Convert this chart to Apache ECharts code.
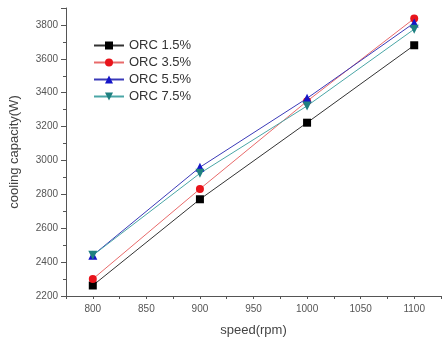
<!DOCTYPE html>
<html><head><meta charset="utf-8">
<script src="https://cdn.jsdelivr.net/npm/echarts@6/dist/echarts.min.js"></script>
<style>html,body{margin:0;padding:0;background:#fff}#c{width:444px;height:342px}</style>
</head><body><div id="c"></div>
<script>
const speeds = [800, 900, 1000, 1100];
const orc15 = [2262, 2771, 3223, 3680];
const orc35 = [2300, 2832, 3350, 3838];
const orc55 = [2440, 2960, 3367, 3812];
const orc75 = [2440, 2924, 3322, 3775];
const seriesNames = ['ORC 1.5%', 'ORC 3.5%', 'ORC 5.5%', 'ORC 7.5%'];

const chart = echarts.init(document.getElementById('c'));
const font = 'Liberation Sans, Arial, sans-serif';
function mk(name, vals, color, lineColor, symbol, size) {
  return {
    name: name, type: 'line',
    data: speeds.map((s, i) => [s, vals[i]]),
    symbol: symbol, symbolSize: size,
    itemStyle: { color: color },
    lineStyle: { color: lineColor, width: 1 },
    emphasis: { disabled: true }
  };
}
chart.setOption({
  animation: false,
  grid: { left: 62, right: 0, top: 8, bottom: 46 },
  legend: {
    orient: 'vertical', left: 88, top: 34,
    itemWidth: 30, itemHeight: 10, itemGap: 4,
    textStyle: { fontFamily: font, fontSize: 13, color: '#333' },
    data: seriesNames
  },
  xAxis: {
    type: 'value', min: 775, max: 1125, interval: 25,
    name: 'speed(rpm)', nameLocation: 'middle', nameGap: 28,
    nameTextStyle: { fontFamily: font, fontSize: 13, color: '#444' },
    axisLine: { lineStyle: { color: '#555' } },
    axisTick: { inside: false, length: 3, lineStyle: { color: '#555' } },
    axisLabel: { fontFamily: font, fontSize: 10, color: '#555', margin: 8,
      formatter: v => (v % 50 === 0 ? String(v) : '') },
    splitLine: { show: false }
  },
  yAxis: {
    type: 'value', min: 2200, max: 3900, interval: 200,
    name: 'cooling capacity(W)', nameLocation: 'middle', nameGap: 45,
    nameTextStyle: { fontFamily: font, fontSize: 13, color: '#444' },
    axisLine: { show: true, lineStyle: { color: '#555' } },
    axisTick: { show: true, length: 5, lineStyle: { color: '#555' } },
    minorTick: { show: true, splitNumber: 2, length: 3, lineStyle: { color: '#555' } },
    axisLabel: { fontFamily: font, fontSize: 10, color: '#555', margin: 8,
      formatter: v => (v % 200 === 0 && v <= 3800 ? String(v) : '') },
    splitLine: { show: false }
  },
  series: [
    mk(seriesNames[0], orc15, '#000000', '#333333', 'rect', 8),
    mk(seriesNames[1], orc35, '#e8141b', '#e86a6a', 'circle', 8),
    mk(seriesNames[2], orc55, '#1515c8', '#3a3ab8', 'triangle', 9),
    mk(seriesNames[3], orc75, '#1f8080', '#4aa6a6', 'path://M0,0 L10,0 L5,9 Z', 9)
  ]
});
</script></body></html>
